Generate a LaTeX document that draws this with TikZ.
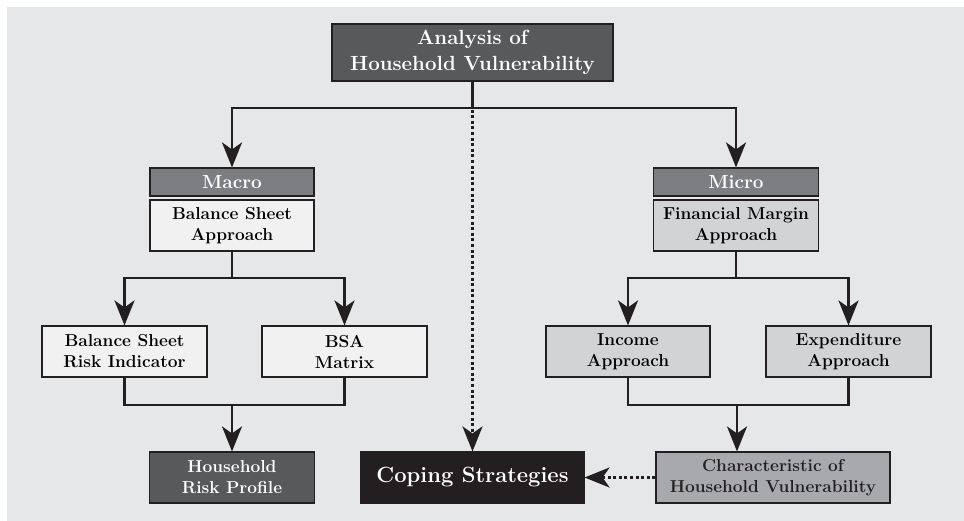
\documentclass[tikz,border=0pt]{standalone}
\usetikzlibrary{arrows.meta}
\definecolor{bggray}{HTML}{E6E7E8}
\definecolor{darkbox}{HTML}{58595B}
\definecolor{midbox}{HTML}{7D7E81}
\definecolor{lightbox}{HTML}{D1D3D4}
\definecolor{medbox}{HTML}{A7A9AC}
\definecolor{whitebox}{HTML}{F1F1F2}
\definecolor{blackbox}{HTML}{231F20}
\definecolor{linecol}{HTML}{231F20}
\begin{document}
\begin{tikzpicture}[x=1pt,y=-1pt,
  box/.style={draw=linecol, line width=1.1pt, inner sep=0pt, align=center, font=\fontsize{17.3}{21}\selectfont\bfseries},
  flow/.style={draw=linecol, line width=2.8pt, -{Stealth[length=25pt,width=20pt,inset=7pt]}},
  plainline/.style={draw=linecol, line width=2.8pt},
  dotline/.style={draw=linecol, line width=2.8pt, dash pattern=on 3pt off 2.6pt, -{Stealth[length=25pt,width=20pt,inset=7pt]}}]
\useasboundingbox (0,0) rectangle (964,521);
\fill[white] (0,0) rectangle (964,521);
\fill[bggray] (7,7) rectangle (964,521);

\node[box, fill=darkbox, text=white, minimum width=281pt, minimum height=57pt, font=\fontsize{20.5}{26}\selectfont\bfseries] (top) at (472.5,52.5) {Analysis of\\Household Vulnerability};

\node[box, fill=midbox, text=white, minimum width=164pt, minimum height=28pt, font=\fontsize{19}{21}\selectfont\bfseries] (macro) at (232,182) {Macro};
\node[box, fill=whitebox, minimum width=164pt, minimum height=51pt] (bsa) at (232,225.5) {Balance Sheet\\Approach};

\node[box, fill=midbox, text=white, minimum width=165pt, minimum height=28pt, font=\fontsize{19}{21}\selectfont\bfseries] (micro) at (736,182) {Micro};
\node[box, fill=lightbox, minimum width=165pt, minimum height=51pt] (fma) at (736,225.5) {Financial Margin\\Approach};

\node[box, fill=whitebox, minimum width=165pt, minimum height=51pt] (bsri) at (124.5,351.5) {Balance Sheet\\Risk Indicator};
\node[box, fill=whitebox, minimum width=165pt, minimum height=51pt] (bsam) at (344.5,351.5) {BSA\\Matrix};

\node[box, fill=lightbox, minimum width=164pt, minimum height=51pt] (inc) at (628,351.5) {Income\\Approach};
\node[box, fill=lightbox, minimum width=165pt, minimum height=51pt] (exp) at (848.5,351.5) {Expenditure\\Approach};

\node[box, fill=darkbox, text=white, minimum width=165pt, minimum height=51pt] (hrp) at (232,477.5) {Household\\Risk Profile};
\node[box, fill=blackbox, text=white, minimum width=223pt, minimum height=51pt, font=\fontsize{22}{26}\selectfont\bfseries] (cope) at (472.5,477.5) {Coping Strategies};
\node[box, fill=medbox, text=linecol, minimum width=234pt, minimum height=51pt] (chv) at (773,477.5) {Characteristic of\\Household Vulnerability};

\coordinate (split) at (472.5,108);
\coordinate (lsplit) at (232,278);
\coordinate (rsplit) at (736,278);
\coordinate (ljoin) at (232,405);
\coordinate (rjoin) at (737,405);

% top splits
\draw[plainline] (top.south) -- (split);
\draw[flow] (split) -| (macro.north);
\draw[flow] (split) -| (micro.north);
\draw[dotline] (top.south) -- (cope.north);

% left branch
\draw[plainline] (bsa.south) -- (lsplit);
\draw[flow] (lsplit) -| (bsri.north);
\draw[flow] (lsplit) -| (bsam.north);
\draw[plainline] (bsri.south) |- (ljoin);
\draw[plainline] (bsam.south) |- (ljoin);
\draw[flow] (ljoin) -- (ljoin |- hrp.north);

% right branch
\draw[plainline] (fma.south) -- (rsplit);
\draw[flow] (rsplit) -| (inc.north);
\draw[flow] (rsplit) -| (exp.north);
\draw[plainline] (inc.south) |- (rjoin);
\draw[plainline] (exp.south) |- (rjoin);
\draw[flow] (rjoin) -- (rjoin |- chv.north);

\draw[dotline] (chv.west) -- (cope.east);
\end{tikzpicture}
\end{document}
